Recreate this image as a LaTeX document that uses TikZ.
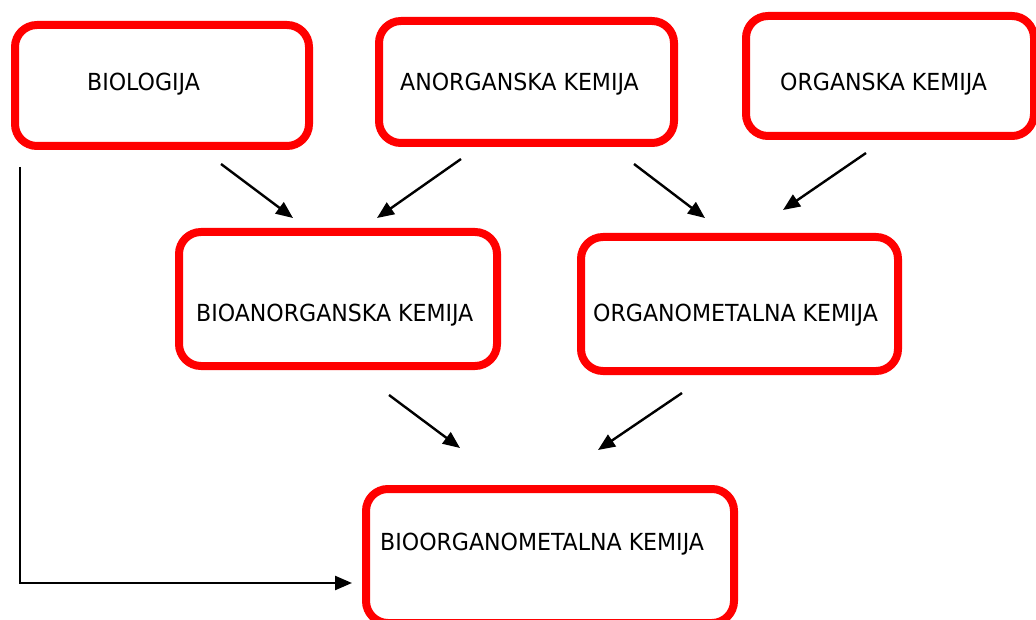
\documentclass[tikz,border=0pt]{standalone}
\usepackage{fontspec}
\setmainfont[FakeStretch=1.045]{DejaVu Sans Condensed}
\usetikzlibrary{arrows.meta}
\tikzset{
  redbox/.style={draw=red, line width=8pt, rounded corners=22pt, rectangle, inner sep=0pt, fill=none},
  lbl/.style={anchor=base west, inner sep=0pt, font=\fontsize{23.5pt}{26pt}\selectfont},
  arr/.style={line width=2.4pt, -{Triangle[length=17pt,width=14pt]}},
}
\begin{document}
\begin{tikzpicture}[x=1pt,y=-1pt]
\useasboundingbox (0,0) rectangle (1036,620);
\clip (0,0) rectangle (1036,620);
% boxes
\node[redbox, minimum width=294pt, minimum height=121pt] (bio) at (162,85.5) {};
\node[redbox, minimum width=295pt, minimum height=122pt] (anorg) at (526.5,82) {};
\node[redbox, minimum width=288pt, minimum height=120pt] (org) at (890,76) {};
\node[redbox, minimum width=318pt, minimum height=134pt] (bioanorg) at (338,299) {};
\node[redbox, minimum width=317pt, minimum height=134pt] (orgmet) at (739.5,304) {};
\node[redbox, minimum width=368pt, minimum height=134pt] (bioorgmet) at (550,556) {};
% labels
\node[lbl] (tbio) at (87,91) {BIOLOGIJA};
\node[lbl] (tanorg) at (400,91) {ANORGANSKA KEMIJA};
\node[lbl] (torg) at (780,91) {ORGANSKA KEMIJA};
\node[lbl] (tbioanorg) at (196,321) {BIOANORGANSKA KEMIJA};
\node[lbl] (torgmet) at (593,321) {ORGANOMETALNA KEMIJA};
\node[lbl] (tbioorgmet) at (380,550) {BIOORGANOMETALNA KEMIJA};
% arrow endpoints
\coordinate (a1s) at (221,164);
\coordinate (a1e) at (293,218);
\coordinate (a2s) at (461,159);
\coordinate (a2e) at (377,218);
\coordinate (a3s) at (634,164);
\coordinate (a3e) at (705,218);
\coordinate (a4s) at (866,153);
\coordinate (a4e) at (783,210);
\coordinate (a5s) at (389,395);
\coordinate (a5e) at (460,448);
\coordinate (a6s) at (682,393);
\coordinate (a6e) at (598,450);
\coordinate (ls) at (20,167);
\coordinate (lc) at (20,583);
\coordinate (le) at (352,583);
% arrows
\draw[arr] (a1s) -- (a1e);
\draw[arr] (a2s) -- (a2e);
\draw[arr] (a3s) -- (a3e);
\draw[arr] (a4s) -- (a4e);
\draw[arr] (a5s) -- (a5e);
\draw[arr] (a6s) -- (a6e);
\draw[arr] (ls) -- (lc) -- (le);
\end{tikzpicture}
\end{document}
